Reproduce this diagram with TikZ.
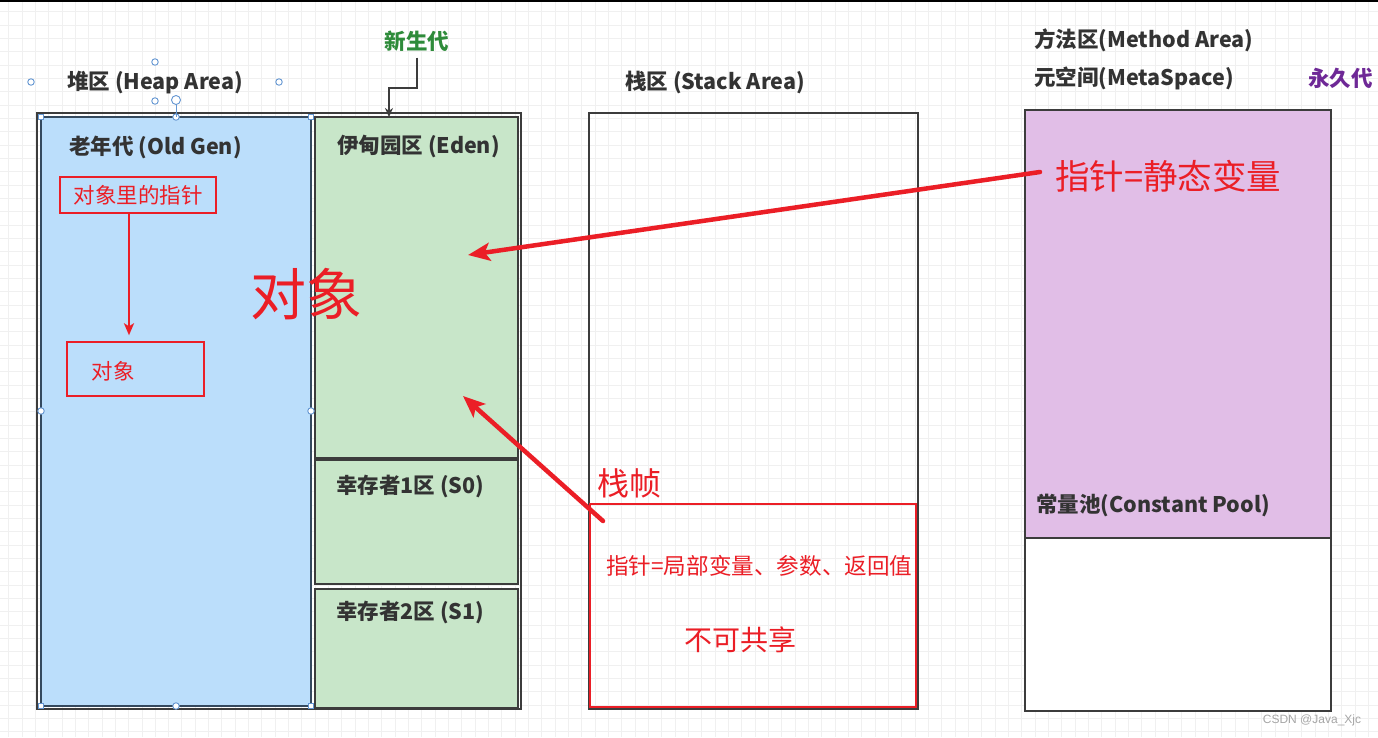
\documentclass[tikz,border=0pt]{standalone}
\usepackage{fontspec}
\setmainfont{Noto Sans CJK SC}
\newfontfamily\wmfont{Liberation Sans}
\usetikzlibrary{arrows.meta,calc}
\definecolor{gridc}{RGB}{240,240,240}
\definecolor{darkc}{RGB}{60,60,60}
\definecolor{oldfill}{RGB}{187,222,251}
\definecolor{oldline}{RGB}{52,73,94}
\definecolor{edenfill}{RGB}{200,230,201}
\definecolor{purfill}{RGB}{225,190,231}
\definecolor{redc}{RGB}{235,30,38}
\definecolor{greenc}{RGB}{46,139,58}
\definecolor{purc}{RGB}{110,40,150}
\definecolor{handc}{RGB}{100,150,210}
\definecolor{textc}{RGB}{51,51,51}
\begin{document}
\begin{tikzpicture}[x=1pt,y=-1pt,
  area/.style={draw=darkc, line width=1.6pt, anchor=north west, inner sep=0, outer sep=0},
  lbl/.style={anchor=west, inner sep=0, text=textc, font=\bfseries\fontsize{21.5}{25}\selectfont},
  redtxt/.style={inner sep=0, text=redc},
  redarrow/.style={draw=redc, line width=4.5pt, line cap=round, -{Stealth[length=22pt,width=18pt,inset=5pt]}},
  hcirc/.style={circle, draw=handc, fill=white, line width=0.9pt, minimum size=6.5pt, inner sep=0},
  hsq/.style={rectangle, draw=handc, fill=white, line width=0.9pt, minimum size=5.5pt, inner sep=0}
]
\useasboundingbox (0,0) rectangle (1378,737);
\fill[white] (0,0) rectangle (1378,737);
% grid
\foreach \i in {0,...,104} \draw[gridc, line width=0.6pt] ({8.5+\i*13.33},0) -- ({8.5+\i*13.33},737);
\foreach \j in {0,...,55} \draw[gridc, line width=0.6pt] (0,{11.7+\j*13.33}) -- (1378,{11.7+\j*13.33});
\draw[black, line width=2pt] (0,1) -- (1378,1);

% heap
\node[area, minimum width=484pt, minimum height=596pt] (heap) at (37,113) {};
\node[area, draw=oldline, fill=oldfill, line width=2pt, minimum width=270pt, minimum height=589pt] (old) at (41,117) {};
\node[area, fill=edenfill, minimum width=203pt, minimum height=341pt] (eden) at (315,117) {};
\node[area, fill=edenfill, minimum width=203pt, minimum height=124pt] (s0) at (315,460) {};
\node[area, fill=edenfill, minimum width=203pt, minimum height=119pt] (s1) at (315,589) {};

% stack
\node[area, minimum width=329pt, minimum height=596pt] (stack) at (589,113) {};
\node[area, draw=redc, line width=1.4pt, minimum width=326pt, minimum height=203pt] (frame) at (590,504) {};

% method area
\node[area, fill=purfill, minimum width=306pt, minimum height=428pt] (method) at (1025,110) {};
\node[area, fill=white, line width=2.6pt, minimum width=306pt, minimum height=173pt] (pool) at (1025,538) {};

% labels
\node[lbl] (heaplbl) at (67,83) {堆区 (Heap Area)};
\node[lbl] (oldlbl) at (69,147) {老年代 (Old Gen)};
\node[lbl] (edenlbl) at (337,147) {伊甸园区 (Eden)};
\node[lbl] (s0lbl) at (336,486) {幸存者1区 (S0)};
\node[lbl] (s1lbl) at (336,612) {幸存者2区 (S1)};
\node[lbl] (stacklbl) at (625,83) {栈区 (Stack Area)};
\node[lbl] (methodlbl) at (1034,40) {方法区(Method Area)};
\node[lbl] (metalbl) at (1034,78) {元空间(MetaSpace)};
\node[lbl, text=purc] (permlbl) at (1308,78) {永久代};
\node[lbl] (poollbl) at (1036,505) {常量池(Constant Pool)};
\node[lbl, anchor=center, text=greenc] (younglbl) at (417,41) {新生代};
\draw[darkc, line width=1.6pt, -{Stealth[length=9pt,width=8pt]}, shorten <=6pt]
  (younglbl.south) -- (417,88) -- (389,88) -- (eden.north west -| 389,0);

% old gen contents
\node[draw=redc, line width=1.4pt, minimum width=156pt, minimum height=36pt, inner sep=0,
      text=redc, font=\fontsize{21.5}{24}\selectfont] (ptrbox) at (138,195) {对象里的指针};
\node[draw=redc, line width=1.4pt, minimum width=137pt, minimum height=54pt, inner sep=0] (objbox) at (135.5,369) {};
\node[redtxt, font=\fontsize{21.5}{24}\selectfont] (objtxt) at (113,371) {对象};
\draw[draw=redc, line width=2.8pt, -{Stealth[length=12pt,width=10pt,inset=3pt]}, shorten >=6pt]
  (ptrbox.south -| 129,0) -- (objbox.north -| 129,0);

\node[redtxt, font=\fontsize{56}{60}\selectfont] (bigobj) at (306,294) {对象};

% stack contents
\node[redtxt, anchor=west, font=\fontsize{32}{36}\selectfont] (framelbl) at (597,483) {栈帧};
\node[redtxt, anchor=west, font=\fontsize{22.6}{26}\selectfont] (frametxt) at (606,566) {指针=局部变量、参数、返回值};
\node[redtxt, font=\fontsize{28}{32}\selectfont] (noshare) at (740,640) {不可共享};

% method contents
\node[redtxt, anchor=west, font=\fontsize{34.5}{38}\selectfont] (static) at (1055,176) {指针=静态变量};

% red arrows
\coordinate (a1s) at (1040,172);
\coordinate (a1e) at (468,255);
\draw[redarrow] (a1s) -- (a1e);
\coordinate (a2s) at (603,521);
\coordinate (a2e) at (463,396);
\draw[redarrow] (a2s) -- (a2e);

% selection handles
\foreach \p/\n in {41/117, 311/117, 41/706, 311/706} \node[hsq] at (\p,\n) {};
\foreach \p/\n in {176/117, 41/411, 311/411, 176/706} \node[hcirc] at (\p,\n) {};
\draw[handc, line width=1pt] (176,104) -- (176,117);
\node[hcirc, minimum size=9pt] (rot) at (176,100) {};
\foreach \p/\n in {31/82, 155/62, 279/82, 155/101} \node[hcirc] at (\p,\n) {};

% watermark
\node[inner sep=0, text=gray!70, font=\wmfont\fontsize{12}{14}\selectfont] (wm) at (1312,720) {CSDN @Java\_Xjc};
\end{tikzpicture}
\end{document}
